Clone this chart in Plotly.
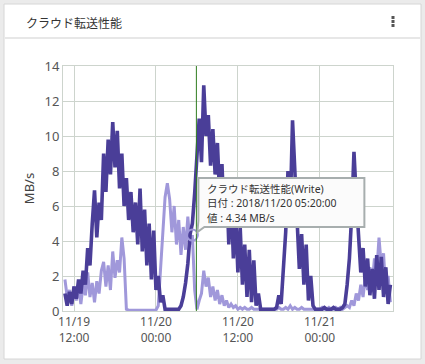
import plotly.graph_objects as go
import pandas as pd

# ---------------- data ----------------
start_time = "2018-11-19 10:40"
step = "20min"

read_mbps = [
    1.0, 0.3, 1.1, 0.4, 1.4, 0.7, 1.8, 1.0, 2.3, 1.5, 3.6, 2.6,
    5.0, 6.9, 4.2, 6.2, 5.2, 9.0, 6.8, 9.8, 7.8, 10.8, 8.2, 10.3,
    7.0, 9.0, 6.0, 7.6, 5.2, 6.8, 4.5, 6.2, 3.8, 7.0, 3.4, 5.8,
    2.6, 5.0, 1.8, 4.6, 1.2, 2.0, 0.5, 0.9, 0.1, 0.1, 0.1, 0.1,
    0.1, 0.1, 0.1, 0.3, 0.8, 1.6, 2.7, 4.4, 5.0, 6.7, 9.0, 11.0,
    8.5, 12.9, 10.0, 11.2, 8.3, 10.4, 7.8, 9.6, 6.5, 8.4, 5.0, 7.6,
    3.8, 6.8, 3.0, 5.6, 2.2, 4.8, 1.5, 3.8, 0.8, 3.5, 0.5, 2.9,
    0.3, 1.0, 0.1, 0.1, 0.1, 0.1, 0.1, 0.1, 0.1, 0.2, 0.9, 0.4,
    2.2, 4.5, 8.0, 5.6, 10.9, 8.2, 4.8, 2.4, 4.4, 1.5, 3.8, 0.6,
    2.0, 0.3, 0.1, 0.1, 0.1, 0.1, 0.2, 0.1, 0.1, 0.1, 0.2, 0.1,
    0.1, 0.1, 0.2, 0.4, 1.5, 3.0, 5.5, 9.1, 6.5, 3.9, 2.2, 3.6,
    1.4, 3.0, 0.9, 2.4, 0.7, 3.2, 1.2, 3.1, 0.8, 2.5, 0.4, 1.5,
]

write_mbps = [
    1.8, 0.8, 1.2, 0.3, 1.4, 0.6, 1.3, 0.4, 1.5, 0.9, 2.2, 0.8,
    1.6, 0.5, 1.7, 1.0, 2.3, 2.8, 1.4, 2.6, 1.2, 3.4, 1.9, 2.9,
    2.2, 4.2, 3.0, 0.1, 0.05, 0.05, 0.05, 0.05, 0.05, 0.05, 0.05, 0.05,
    0.05, 0.05, 0.05, 0.05, 0.05, 0.3, 2.5, 5.0, 6.5, 7.3, 6.4, 4.5,
    6.0, 3.8, 5.2, 3.2, 4.8, 3.5, 5.4, 3.8, 4.34, 1.2, 0.1, 0.6,
    1.0, 2.3, 1.4, 1.9, 0.8, 1.4, 0.6, 1.2, 0.4, 0.9, 0.3, 0.6,
    0.2, 0.4, 0.2, 0.3, 0.1, 0.2, 0.1, 0.2, 0.1, 0.1, 0.2, 0.1,
    0.1, 0.1, 0.1, 0.1, 0.1, 0.1, 0.1, 0.1, 0.1, 0.1, 0.2, 0.1,
    0.1, 0.2, 0.1, 0.3, 0.1, 0.2, 0.1, 0.1, 0.2, 0.1, 0.1, 0.1,
    0.1, 0.1, 0.1, 0.1, 0.1, 0.2, 0.1, 0.1, 0.2, 0.1, 0.1, 0.2,
    0.1, 0.2, 0.1, 0.2, 0.3, 0.2, 0.6, 0.3, 1.0, 0.6, 1.5, 0.8,
    2.0, 1.2, 2.5, 1.5, 3.0, 2.2, 4.2, 2.6, 3.3, 1.0, 2.0, 0.5,
]

times = pd.date_range(start_time, periods=len(read_mbps), freq=step)

tip_time = pd.Timestamp("2018-11-20 05:20:00")
tip_index = list(times).index(tip_time)
tip_value = write_mbps[tip_index]

title_text = "クラウド転送性能"
series_names = ["クラウド転送性能(Read)", "クラウド転送性能(Write)"]
y_title = "MB/s"

# ---------------- styling ----------------
W, H = 425, 364
L, R, T, B = 63, 32, 66, 53
PW, PH = W - L - R, H - T - B

def px(x):
    return (x - L) / PW

def py(y):
    return (H - B - y) / PH

DARK = "#4a3e98"
LIGHT = "#a098da"
GRID = "#cdd4cd"
FONT = "Noto Sans, Noto Sans CJK JP, sans-serif"

fig = go.Figure()

fig.add_trace(go.Scatter(
    x=times, y=write_mbps, name=series_names[1], mode="lines",
    line=dict(color=LIGHT, width=3), hoverinfo="skip"))
fig.add_trace(go.Scatter(
    x=times, y=read_mbps, name=series_names[0], mode="lines",
    line=dict(color=DARK, width=3.6), hoverinfo="skip"))
fig.add_trace(go.Scatter(
    x=[tip_time], y=[tip_value], mode="markers",
    marker=dict(symbol="circle-open", size=11, color=LIGHT, line=dict(width=2)),
    hoverinfo="skip", cliponaxis=False))

shapes = [
    # card
    dict(type="rect", xref="paper", yref="paper", x0=px(4), x1=px(421), y0=py(4), y1=py(359),
         fillcolor="white", line=dict(color="#d6d6d6", width=1), layer="below"),
    # header separator
    dict(type="line", xref="paper", yref="paper", x0=px(5), x1=px(420), y0=py(38), y1=py(38),
         line=dict(color="#cfcfcf", width=1)),
    # crosshair line
    dict(type="line", xref="x", yref="paper", xsizemode="pixel", xanchor=tip_time,
         x0=4, x1=4, y0=0, y1=1, line=dict(color="#2f7d1f", width=1), layer="above"),
    # tooltip box with pointer
    dict(type="path", xref="x", yref="y", xsizemode="pixel", ysizemode="pixel",
         xanchor=tip_time, yanchor=tip_value,
         path="M 6,57 L 172,57 L 172,8 L 12,8 L 5,3 L 6,14 Z",
         fillcolor="#fbfbfb", line=dict(color="#a7aeae", width=2), layer="above"),
]
# kebab menu dots
for yy in (17.5, 21.5, 25.5):
    shapes.append(dict(type="rect", xref="paper", yref="paper",
                       x0=px(391.5), x1=px(394.5), y0=py(yy - 1.5), y1=py(yy + 1.5),
                       fillcolor="#555555", line=dict(width=0)))

tip_lines = [
    series_names[1],
    f"日付 : {tip_time.strftime('%Y/%m/%d %H:%M:%S')}",
    f"値 : {tip_value:.2f} MB/s",
]

annotations = [
    dict(text=title_text, xref="paper", yref="paper", x=px(24), y=py(23),
         xanchor="left", yanchor="middle", showarrow=False,
         font=dict(family="Noto Sans CJK JP", size=12, color="#333333")),
]
for k, line in enumerate(tip_lines):
    annotations.append(dict(
        text=line, xref="x", yref="y", x=tip_time, y=tip_value,
        xanchor="left", yanchor="middle", xshift=13, yshift=46.5 - 14.5 * k,
        showarrow=False,
        font=dict(family="Noto Sans, Noto Sans CJK JP", size=10.5, color="#333333")))

fig.update_layout(
    width=W, height=H,
    margin=dict(l=L, r=R, t=T, b=B, pad=0),
    paper_bgcolor="#ebebeb", plot_bgcolor="white",
    showlegend=False, hovermode=False,
    font=dict(family=FONT, color="#555555"),
    shapes=shapes, annotations=annotations,
    xaxis=dict(
        type="date",
        range=["2018-11-19 10:23", "2018-11-21 10:43"],
        tick0="2018-11-19 12:00", dtick=12 * 3600 * 1000,
        tickformat="%m/%d<br>%H:%M",
        showgrid=True, gridcolor=GRID, gridwidth=1,
        showline=True, linecolor=GRID, linewidth=1, mirror=True,
        zeroline=False, ticks="",
        tickfont=dict(size=12, color="#555555"),
    ),
    yaxis=dict(
        range=[0, 14], dtick=2,
        showgrid=True, gridcolor=GRID, gridwidth=1,
        showline=True, linecolor=GRID, linewidth=1, mirror=True,
        zeroline=False, ticks="",
        tickfont=dict(size=13, color="#555555"),
        title=dict(text=y_title, font=dict(size=13, color="#444444"), standoff=6),
    ),
)

fig.write_html("out.html", config={"displayModeBar": False},
               post_script="document.body.style.margin='0px';")
